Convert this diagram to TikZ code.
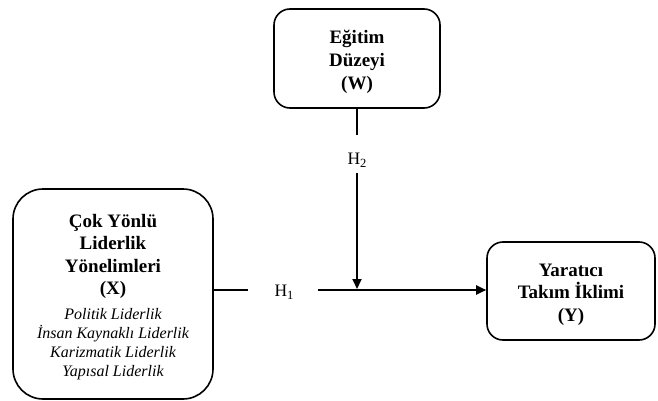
\documentclass[tikz,border=0pt]{standalone}
\usepackage{fontspec}
\setmainfont{Liberation Serif}
\usetikzlibrary{arrows.meta}
\newcommand{\boldtext}{\fontsize{19}{22.6}\selectfont\bfseries}
\newcommand{\italtext}{\fontsize{16}{19}\selectfont\mdseries\itshape}
\newcommand{\hsub}[1]{\raisebox{-3pt}{\fontsize{12.5}{13}\selectfont #1}}
\newcommand{\topgap}[1]{\rule{0pt}{#1}}
\begin{document}
\begin{tikzpicture}[x=1pt,y=-1pt,
  box/.style={draw, line width=1.6pt, align=center, inner sep=0pt, font=\boldtext},
  conn/.style={line width=2pt},
  arr/.style={conn, -{Triangle[length=10pt,width=9pt]}},
  lab/.style={font=\fontsize{17.5}{19}\selectfont}]
\useasboundingbox (0,0) rectangle (658,401);
\node[box, rounded corners=30pt, minimum width=200pt, minimum height=210pt] (X) at (113,294) {\topgap{19pt}Çok Yönlü\\Liderlik\\Yönelimleri\\(X)\\[2pt]\italtext Politik Liderlik\\[-3.6pt]\italtext İnsan Kaynaklı Liderlik\\[-3.6pt]\italtext Karizmatik Liderlik\\[-3.6pt]\italtext Yapısal Liderlik};
\node[box, rounded corners=16pt, minimum width=166pt, minimum height=99pt] (W) at (357,58.5) {\topgap{20pt}Eğitim\\Düzeyi\\(W)};
\node[box, rounded corners=16pt, minimum width=168pt, minimum height=98pt] (Y) at (571,291) {\topgap{20pt}Yaratıcı\\Takım İklimi\\(Y)};
\node[lab, inner sep=0pt] (h1) at (284,292) {H\hsub{1}};
\node[lab, inner sep=0pt] (h2) at (357,160) {H\hsub{2}};
\coordinate (h1l) at (248,290);
\coordinate (h1r) at (318,290);
\coordinate (h2t) at (357,135);
\coordinate (h2b) at (357,173);
\coordinate (m) at (357,289);
\draw[conn] (X.east |- h1l) -- (h1l);
\draw[arr] (h1r) -- (Y.west |- h1r);
\draw[conn] (W.south) -- (h2t);
\draw[arr] (h2b) -- (m);
\end{tikzpicture}
\end{document}
